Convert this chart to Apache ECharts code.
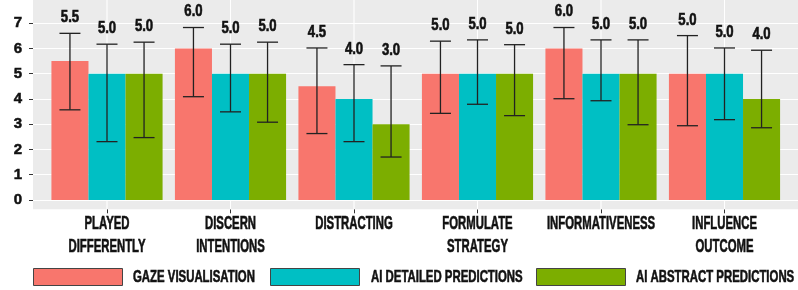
<!DOCTYPE html>
<html><head><meta charset="utf-8">
<script src="https://cdn.jsdelivr.net/npm/echarts@6/dist/echarts.min.js"></script>
<style>html,body{margin:0;padding:0;background:#fff}#c{width:798px;height:290px}</style>
</head><body><div id="c"></div>
<script>
const categories = ['PLAYED\nDIFFERENTLY','DISCERN\nINTENTIONS','DISTRACTING','FORMULATE\nSTRATEGY','INFORMATIVENESS','INFLUENCE\nOUTCOME'];
const seriesNames = ['GAZE VISUALISATION','AI DETAILED PREDICTIONS','AI ABSTRACT PREDICTIONS'];
const gazeValues = [5.5,6.0,4.5,5.0,6.0,5.0];
const detailedValues = [5.0,5.0,4.0,5.0,5.0,5.0];
const abstractValues = [5.0,5.0,3.0,5.0,5.0,4.0];
const gazeLower = [3.57,4.09,2.63,3.43,4.01,2.94];
const gazeUpper = [6.60,6.83,6.02,6.29,6.83,6.51];
const detailedLower = [2.31,3.49,2.31,3.79,3.93,3.18];
const detailedUpper = [6.17,6.17,5.36,6.34,6.34,6.02];
const abstractLower = [2.47,3.08,1.70,3.34,2.98,2.86];
const abstractUpper = [6.25,6.25,5.31,6.15,6.34,5.93];
const yTicks = [0,1,2,3,4,5,6,7];

const FONT = '"Liberation Sans",Arial,sans-serif';
const colors = ['#F8766D','#00BFC4','#7CAE00'];
const Y_MIN = -0.37, Y_MAX = 7.92;
const PANEL_H = 209.3;
const TXT = '#111111';

function makeErr(idx, lower, upper, means){
  return {
    type:'custom', xAxisIndex:1, yAxisIndex:1, z:5, silent:true, clip:false,
    data: categories.map((c,i)=>[i, lower[i], upper[i], means[i]]),
    encode:{x:0, y:[1,2]},
    renderItem:(params, api)=>{
      const i = api.value(0);
      const band = api.size([1,0])[0];
      const barW = band*0.9/3;
      const off = (idx-1)*barW;
      const lo = api.coord([i, api.value(1)]);
      const hi = api.coord([i, api.value(2)]);
      const x = lo[0]+off;
      const cap = 10.5;
      const st = {stroke:'#222222', lineWidth:1.3};
      return {type:'group', children:[
        {type:'line', shape:{x1:x,y1:hi[1],x2:x,y2:lo[1]}, style:st},
        {type:'line', shape:{x1:x-cap,y1:hi[1],x2:x+cap,y2:hi[1]}, style:st},
        {type:'line', shape:{x1:x-cap,y1:lo[1],x2:x+cap,y2:lo[1]}, style:st},
        {type:'text', x:x, y:hi[1]-15.5, scaleX:0.82, style:{text:Number(api.value(3)).toFixed(1), fill:TXT,
          stroke:TXT, lineWidth:0.6, font:'bold 16px '+FONT, align:'center', verticalAlign:'middle'}}
      ]};
    }
  };
}

const chart = echarts.init(document.getElementById('c'), null, {renderer:'canvas'});
const legendLeft = [33,270,536];
const legendTextLeft = [133,371,636];
chart.setOption({
  animation:false,
  backgroundColor:'#ffffff',
  grid:[
    {left:33, right:0, top:0, height:PANEL_H, show:true, backgroundColor:'#EBEBEB', borderWidth:0},
    {left:45.25, width:741, top:0, height:PANEL_H}
  ],
  xAxis:[
    {gridIndex:0, type:'value', min:0, max:1, show:false},
    {gridIndex:1, type:'category', data:categories, position:'bottom',
      axisLine:{show:false, onZero:false},
      axisTick:{show:true, interval:0, alignWithLabel:true, length:4, lineStyle:{color:'#333333', width:1}},
      axisLabel:{show:false}, splitLine:{show:false}}
  ],
  yAxis:[
    {gridIndex:0, type:'value', min:Y_MIN, max:Y_MAX, splitNumber:8,
      axisLine:{show:false},
      axisTick:{show:true, length:4, customValues:yTicks, lineStyle:{color:'#333333'}},
      axisLabel:{show:true, customValues:yTicks, margin:11, color:TXT, fontFamily:FONT, fontWeight:'bold', fontSize:15,
        textBorderColor:TXT, textBorderWidth:0.5},
      splitLine:{show:true, lineStyle:{color:'#ffffff', width:1.1}}},
    {gridIndex:1, type:'value', min:Y_MIN, max:Y_MAX, show:false, splitLine:{show:false}}
  ],
  legend: seriesNames.map((n,k)=>({
    data:[n], left:legendLeft[k], top:268, padding:0, itemWidth:89, itemHeight:17, icon:'rect',
    selectedMode:false, formatter:()=>'',
    itemStyle:{borderColor:'#444444', borderWidth:1}
  })),
  graphic: seriesNames.map((n,k)=>({
    type:'text', x:legendTextLeft[k], y:277.5, scaleX:0.67, silent:true,
    style:{text:n, fill:TXT, stroke:TXT, lineWidth:0.6, font:'bold 17px '+FONT, align:'left', verticalAlign:'middle'}
  })),
  series:[
    {type:'custom', xAxisIndex:1, yAxisIndex:1, z:1, silent:true, clip:false,
      data: categories.map((c,i)=>[i]),
      encode:{x:0},
      renderItem:(params, api)=>{
        const i = api.value(0);
        const a = api.coord([i, Y_MIN]);
        const b = api.coord([i, Y_MAX]);
        return {type:'line', shape:{x1:a[0],y1:a[1],x2:b[0],y2:b[1]}, style:{stroke:'#ffffff', lineWidth:1.1}};
      }},
    {type:'custom', xAxisIndex:1, yAxisIndex:1, z:1, silent:true, clip:false,
      data: categories.map((c,i)=>[i]),
      encode:{x:0},
      renderItem:(params, api)=>{
        const i = params.dataIndex;
        const a = api.coord([api.value(0), Y_MIN]);
        return {type:'text', x:a[0], y:a[1]+3.35, scaleX:0.63,
          style:{text:categories[i], fill:TXT, stroke:TXT, lineWidth:0.6, font:'bold 18px '+FONT, lineHeight:22.7, align:'center', verticalAlign:'top'}};
      }},
    {name:seriesNames[0], type:'bar', xAxisIndex:1, yAxisIndex:1, data:gazeValues, barGap:'0%', barCategoryGap:'10%', itemStyle:{color:colors[0]}, z:2},
    {name:seriesNames[1], type:'bar', xAxisIndex:1, yAxisIndex:1, data:detailedValues, barGap:'0%', barCategoryGap:'10%', itemStyle:{color:colors[1]}, z:2},
    {name:seriesNames[2], type:'bar', xAxisIndex:1, yAxisIndex:1, data:abstractValues, barGap:'0%', barCategoryGap:'10%', itemStyle:{color:colors[2]}, z:2},
    makeErr(0, gazeLower, gazeUpper, gazeValues),
    makeErr(1, detailedLower, detailedUpper, detailedValues),
    makeErr(2, abstractLower, abstractUpper, abstractValues)
  ]
});
</script></body></html>
